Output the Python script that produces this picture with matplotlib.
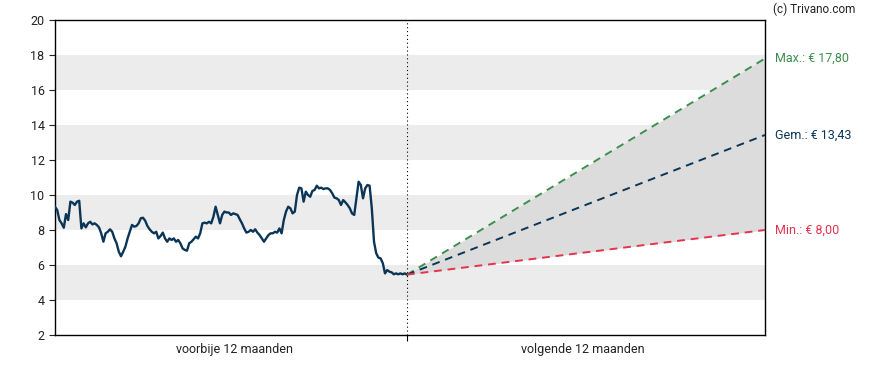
import matplotlib
matplotlib.use('Agg')
import matplotlib.pyplot as plt
import numpy as np

plt.rcParams['font.family'] = ['Roboto', 'DejaVu Sans']

price = [9.33, 9.14, 8.57, 8.38, 8.13, 8.91, 8.57, 9.62, 9.56, 9.43, 9.62, 9.67,
         8.09, 8.38, 8.15, 8.38, 8.47, 8.32, 8.38, 8.29, 8.15, 7.81, 7.33, 7.81,
         7.90, 8.04, 7.90, 7.52, 7.24, 6.76, 6.50, 6.76, 7.05, 7.52, 7.90, 8.29,
         8.19, 8.23, 8.38, 8.67, 8.70, 8.53, 8.23, 8.04, 7.90, 7.81,
         7.90, 7.52, 7.66, 7.85, 7.52, 7.33, 7.52, 7.43, 7.52, 7.33, 7.43, 7.24,
         6.95, 6.86, 6.82, 7.24, 7.33, 7.47, 7.62, 7.52, 7.81, 8.38, 8.42, 8.38,
         8.47, 8.38, 8.76, 9.33, 8.86, 8.38, 8.86, 9.05, 9.00,
         9.00, 8.86, 8.95, 8.91, 8.86, 8.61, 8.38, 8.09, 7.85, 7.90, 8.00, 7.90,
         8.04, 7.85, 7.71, 7.52, 7.33, 7.52, 7.71, 7.81, 7.81, 7.90, 7.85, 8.09, 7.81,
         8.57, 9.05, 9.33, 9.24, 8.95, 9.05, 10.00, 10.42, 10.38, 9.62, 10.19, 10.00,
         9.90, 10.23, 10.29, 10.53, 10.38, 10.42, 10.34, 10.38, 10.38, 10.29, 10.10,
         9.85, 9.81, 9.71, 9.43, 9.71, 9.58, 9.43, 9.24, 8.95, 8.86, 9.81, 10.76,
         10.57, 9.81, 10.38, 10.57, 10.53,
         9.24, 7.33, 6.67, 6.42, 6.38, 6.10, 5.52, 5.71, 5.62, 5.58, 5.47, 5.52,
         5.47, 5.52, 5.47, 5.52, 5.45]

# koersdoelen over 12 maanden
target_max = 17.80
target_avg = 13.43
target_min = 8.00

period_labels = ['voorbije 12 maanden', 'volgende 12 maanden']
yticks = [2, 4, 6, 8, 10, 12, 14, 16, 18, 20]

navy = '#0b3556'
green = '#3d8f4f'
red = '#e5334b'

x_end = 2.017  # toekomstige periode iets langer dan verleden

fig = plt.figure(figsize=(8.88, 3.70), dpi=100)
ax = fig.add_axes([55 / 888, 35 / 370, 710 / 888, 315 / 370])

# grijze banden
for lo in [4, 8, 12, 16]:
    ax.axhspan(lo, lo + 2, color='#ececec', lw=0, zorder=0)

# koers
x_hist = np.linspace(0, 1, len(price))
ax.plot(x_hist, price, color=navy, lw=1.7, zorder=3, solid_joinstyle='round')

# prognose
last = price[-1]
xf = [1, x_end]
ax.fill_between(xf, [last, target_min], [last, target_max], color='#dcdcdc', lw=0, zorder=1)
ax.plot(xf, [last, target_max], color=green, lw=1.4, ls=(0, (4, 3)), zorder=3)
ax.plot(xf, [last, target_avg], color=navy, lw=1.4, ls=(0, (4, 3)), zorder=3)
ax.plot(xf, [last, target_min], color=red, lw=1.4, ls=(0, (4, 3)), zorder=3)

ax.axvline(1, color='black', lw=0.8, ls=(0, (1, 2.5)), zorder=2)

ax.set_xlim(0, x_end)
ax.set_ylim(2, 20)
ax.set_yticks(yticks)
ax.tick_params(axis='y', labelsize=9, length=4, width=0.8, colors='#222222')
ax.set_xticks([1])
ax.set_xticklabels([''])
ax.set_xticks([0.51, 1.5], minor=True)
ax.set_xticklabels(period_labels, minor=True)
ax.tick_params(axis='x', which='major', length=4, width=0.8)
ax.tick_params(axis='x', which='minor', length=0, labelsize=9, pad=6, colors='#222222')
for s in ax.spines.values():
    s.set_linewidth(1.0)

# labels rechts
for val, txt, col in [(target_max, 'Max.: € 17,80', green),
                      (target_avg, 'Gem.: € 13,43', navy),
                      (target_min, 'Min.: € 8,00', red)]:
    ax.annotate(txt, xy=(1, val), xycoords=('axes fraction', 'data'),
                xytext=(7, 0), textcoords='offset points',
                va='center', ha='left', fontsize=9, color=col)

fig.text(773 / 888, 1 - 9 / 370, '(c) Trivano.com', ha='left', va='center',
         fontsize=8.5, color='#222222')

plt.savefig('out.png', dpi=100, facecolor='white')
plt.close()
